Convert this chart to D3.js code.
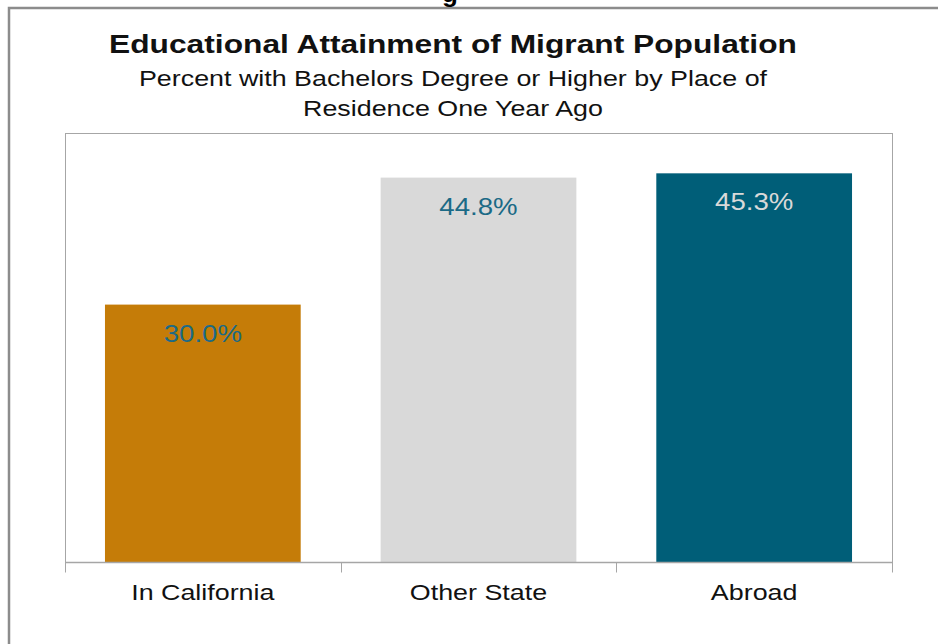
<!DOCTYPE html>
<html>
<head>
<meta charset="utf-8">
<script src="https://cdn.jsdelivr.net/npm/d3@7"></script>
<style>
  body { margin: 0; background: #fff; }
  text { font-family: "Liberation Sans", Arial, sans-serif; }
</style>
</head>
<body>
<svg id="chart" width="938" height="644"></svg>
<script>
var categories = ["In California", "Other State", "Abroad"]
var values = [30.0, 44.8, 45.3]
var barColors = ["#C57C08", "#D9D9D9", "#005E78"]
var labelColors = ["#1B6A86", "#1B6A86", "#D9D9D9"]

var svg = d3.select("#chart")

// the source picture is a bit wider than the fonts, so stretch text to match
var stretch = 1.22
function widen(sel, k) {
    sel.each(function() {
        let w = this.getComputedTextLength()
        d3.select(this).attr("textLength", w * k).attr("lengthAdjust", "spacingAndGlyphs")
    })
}

// outer frame (cut off at the right and bottom)
svg.append("path")
    .attr("d", "M9,644 V8 H938")
    .attr("fill", "none")
    .attr("stroke", "#8c8c8c")
    .attr("stroke-width", 2.5)

// clipped heading from the slide above
svg.append("text")
    .attr("x", 450).attr("y", 2)
    .attr("text-anchor", "middle")
    .style("font-weight", "bold").style("font-size", "26px")
    .text("g")

var plot = { left: 65, right: 892, top: 133, bottom: 562 }

var x = d3.scaleBand()
    .domain(categories)
    .range([plot.left, plot.right])
    .paddingInner(0.29)
    .paddingOuter(0.145)

var y = d3.scaleLinear()
    .domain([0, 50])
    .range([plot.bottom, plot.top])

// plot box
svg.append("rect")
    .attr("x", plot.left + 0.5).attr("y", plot.top + 0.5)
    .attr("width", plot.right - plot.left).attr("height", plot.bottom - plot.top)
    .attr("fill", "none")
    .attr("stroke", "#a6a6a6")

svg.selectAll(".bar")
    .data(values)
    .join("rect")
    .attr("class", "bar")
    .attr("x", (d, i) => x(categories[i]))
    .attr("y", d => y(d))
    .attr("width", x.bandwidth())
    .attr("height", d => y(0) - y(d))
    .attr("fill", (d, i) => barColors[i])

svg.selectAll(".val")
    .data(values)
    .join("text")
    .attr("class", "val")
    .attr("x", (d, i) => x(categories[i]) + x.bandwidth() / 2)
    .attr("y", d => y(d) + 37)
    .attr("text-anchor", "middle")
    .style("font-size", "23px")
    .attr("fill", (d, i) => labelColors[i])
    .text(d => d.toFixed(1) + "%")
    .call(widen, 1.2)

// category axis
var edge = d3.scaleLinear().domain([0, 3]).range([plot.left, plot.right])
var xAxis = svg.append("g")
    .attr("transform", "translate(0," + (plot.bottom + 0.5) + ")")
xAxis.append("line")
    .attr("x1", plot.left).attr("x2", plot.right + 1)
    .attr("stroke", "#a6a6a6").attr("stroke-width", 1.5)
xAxis.selectAll(".tick")
    .data(d3.range(4))
    .join("line")
    .attr("class", "tick")
    .attr("x1", d => Math.round(edge(d)) + 0.5).attr("x2", d => Math.round(edge(d)) + 0.5)
    .attr("y1", 0).attr("y2", 10)
    .attr("stroke", "#a6a6a6")
xAxis.selectAll(".cat")
    .data(categories)
    .join("text")
    .attr("class", "cat")
    .attr("x", d => x(d) + x.bandwidth() / 2)
    .attr("y", 37)
    .attr("text-anchor", "middle")
    .style("font-size", "22px")
    .attr("fill", "#111")
    .text(d => d)
    .call(widen, stretch)

// titles
var cx = 453
svg.append("text")
    .attr("x", cx).attr("y", 53)
    .attr("text-anchor", "middle")
    .style("font-weight", "bold").style("font-size", "26px")
    .attr("fill", "#111")
    .text("Educational Attainment of Migrant Population")
    .call(widen, stretch)
var subtitle = ["Percent with Bachelors Degree or Higher by Place of", "Residence One Year Ago"]
svg.selectAll(".sub")
    .data(subtitle)
    .join("text")
    .attr("class", "sub")
    .attr("x", cx)
    .attr("y", (d, i) => 86 + i * 30)
    .attr("text-anchor", "middle")
    .style("font-size", "22px")
    .attr("fill", "#111")
    .text(d => d)
    .call(widen, stretch)
</script>
</body>
</html>
